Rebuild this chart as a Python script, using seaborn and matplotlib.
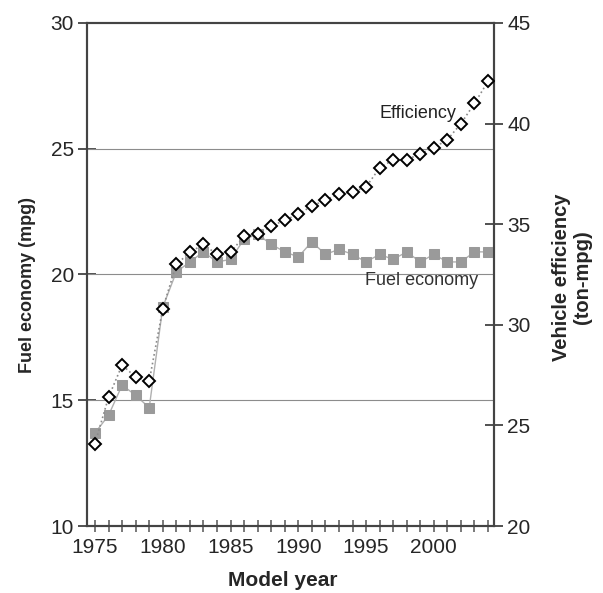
import matplotlib
matplotlib.use("Agg")
import matplotlib.pyplot as plt
import seaborn as sns
import pandas as pd

years = list(range(1975, 2005))
fuel_economy = [13.7, 14.4, 15.6, 15.2, 14.7, 18.7, 20.1, 20.5, 20.9, 20.5,
                20.6, 21.4, 21.6, 21.2, 20.9, 20.7, 21.3, 20.8, 21.0, 20.8,
                20.5, 20.8, 20.6, 20.9, 20.5, 20.8, 20.5, 20.5, 20.9, 20.9]
efficiency = [24.1, 26.4, 28.0, 27.4, 27.2, 30.8, 33.0, 33.6, 34.0, 33.5,
              33.6, 34.4, 34.5, 34.9, 35.2, 35.5, 35.9, 36.2, 36.5, 36.6,
              36.85, 37.8, 38.2, 38.2, 38.5, 38.8, 39.2, 40.0, 41.0, 42.1]
xtick_labels = [1975, 1980, 1985, 1990, 1995, 2000]
left_ticks = [10, 15, 20, 25, 30]
right_ticks = [20, 25, 30, 35, 40, 45]

df = pd.DataFrame({"year": years, "fe": fuel_economy, "eff": efficiency})

sns.set_style("white")
plt.rcParams['font.family'] = ['Liberation Sans', 'DejaVu Sans']

fig = plt.figure(figsize=(6.03, 5.93), dpi=100)
ax = fig.add_axes([87/603, 1-526/593, (494-87)/603, (526-23)/593])
ax2 = ax.twinx()

sns.lineplot(data=df, x="year", y="fe", ax=ax, color="#b0b0b0", lw=1.0,
             marker="s", markersize=7, markerfacecolor="#9a9a9a",
             markeredgecolor="#9a9a9a", zorder=3)
sns.lineplot(data=df, x="year", y="eff", ax=ax2, color="#8a8a8a", lw=1.2,
             linestyle=":", marker="D", markersize=6, markerfacecolor="white",
             markeredgecolor="black", markeredgewidth=1.4, zorder=4)

ax.set_xlim(1974.41, 2004.44)
ax.set_ylim(10, 30)
ax2.set_ylim(20, 45)

ax.set_yticks(left_ticks)
ax2.set_yticks(right_ticks)
ax.set_xticks(xtick_labels)
ax.set_xticks(years, minor=True)
ax.set_xticklabels([str(v) for v in xtick_labels])

for yv in [15, 20, 25]:
    ax.axhline(yv, color="#8c8c8c", lw=0.8, zorder=1)

ax.tick_params(axis="x", which="both", direction="inout", length=9, width=1.1,
               color="#555555", labelsize=15, pad=4, bottom=True)
ax.tick_params(axis="y", direction="inout", length=13, width=1.2,
               color="#333333", labelsize=15, pad=3, left=True)
ax2.tick_params(axis="y", direction="inout", length=13, width=1.2,
                color="#333333", labelsize=15, pad=3, right=True)

for a in (ax, ax2):
    for s in a.spines.values():
        s.set_visible(True)
        s.set_color("#444444")
        s.set_linewidth(1.5)

ax.set_xlabel("")
ax.set_ylabel("")
ax2.set_ylabel("")

fig.text(283/603, 1-580/593, "Model year", ha="center", va="center",
         fontsize=15, fontweight="bold")
fig.text(28/603, 1-285/593, "Fuel economy (mpg)", ha="center", va="center",
         rotation=90, fontsize=13, fontweight="bold")
fig.text(572/603, 1-277/593, "Vehicle efficiency\n(ton-mpg)", ha="center",
         va="center", rotation=90, fontsize=14.5, fontweight="bold",
         linespacing=1.15, multialignment="center")

ax.text(1998.84, 26.41, "Efficiency", ha="center", va="center", fontsize=13,
        color="#222222")
ax.text(1999.06, 19.76, "Fuel economy", ha="center", va="center",
        fontsize=13, color="#333333")

fig.savefig("out.png", dpi=100)
